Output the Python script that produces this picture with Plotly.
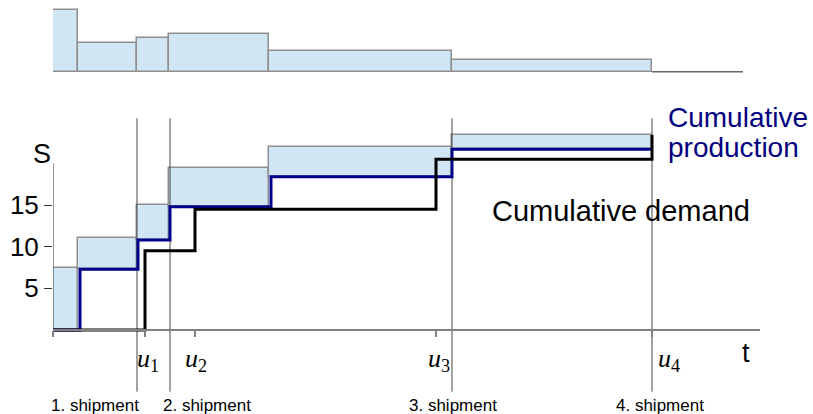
import plotly.graph_objects as go

# ---------------- data ----------------
# production intervals (edges, time units) and histogram heights
interval_edges = [0, 2.5, 8.4, 11.6, 21.6, 39.9, 59.9]
hist_heights = [7.4, 3.5, 4.0, 4.5, 2.5, 1.4]
hist_tail_end = 69.0

# shaded production blocks on the cumulative chart
block_low = [0, 7.3, 10.8, 14.8, 18.4, 21.7]
block_high = [7.5, 11.0, 15.0, 19.45, 22.0, 23.4]

# cumulative production (step, hv)
prod_t = [0, 2.7, 8.5, 11.7, 21.8, 39.9, 59.9]
prod_level = [0, 7.3, 10.8, 14.8, 18.4, 21.7, 21.7]

# cumulative demand (step, hv)
demand_t = [0, 9.2, 14.2, 38.3, 59.9]
demand_level = [0, 9.5, 14.5, 20.5, 23.4]

# shipments
shipment_t = [8.4, 11.7, 39.9, 59.9]
shipment_labels = ["1. shipment", "2. shipment", "3. shipment", "4. shipment"]
u_labels = ["1", "2", "3", "4"]

y_ticks = [5, 10, 15]
y_axis_top = 20
x_axis_end = 70.7

# ---------------- styling ----------------
FILL = "#d0e6f4"
EDGE = "#8f8f8f"
NAVY = "#00008b"
SANS = "Liberation Sans, Arial, sans-serif"
SERIF = "Liberation Serif, Times New Roman, serif"

W, H = 813, 414
y_min, y_max = -10.08, 39.6      # main axis
y2_min, y2_max = -41.08, 8.604   # histogram axis

fig = go.Figure()

widths = [interval_edges[i + 1] - interval_edges[i] for i in range(len(hist_heights))]
centers = [(interval_edges[i] + interval_edges[i + 1]) / 2 for i in range(len(hist_heights))]

# histogram on top
fig.add_trace(go.Bar(
    x=centers, y=hist_heights, width=widths, base=0, yaxis="y2",
    marker=dict(color=FILL, line=dict(color=EDGE, width=1.5)),
    hoverinfo="skip", showlegend=False))
fig.add_trace(go.Scatter(
    x=[interval_edges[-1], hist_tail_end], y=[0, 0], yaxis="y2", mode="lines",
    line=dict(color="#666666", width=1.5), hoverinfo="skip", showlegend=False))

# shaded blocks
fig.add_trace(go.Bar(
    x=centers, y=[h - l for h, l in zip(block_high, block_low)], base=block_low,
    width=widths, marker=dict(color=FILL, line=dict(color=EDGE, width=1.5)),
    hoverinfo="skip", showlegend=False))

# shipment vertical lines
sx, sy = [], []
for t in shipment_t:
    sx += [t, t, None]
    sy += [25.4, -7.4, None]
fig.add_trace(go.Scatter(x=sx, y=sy, mode="lines", line=dict(color="#444444", width=1),
                         hoverinfo="skip", showlegend=False))

# y axis line
fig.add_trace(go.Scatter(x=[0, 0], y=[0, y_axis_top], mode="lines",
                         line=dict(color="#333333", width=1), hoverinfo="skip", showlegend=False))

# cumulative production
fig.add_trace(go.Scatter(x=prod_t, y=prod_level, mode="lines", line_shape="hv",
                         line=dict(color=NAVY, width=3), hoverinfo="skip", showlegend=False))
# cumulative demand
fig.add_trace(go.Scatter(x=demand_t, y=demand_level, mode="lines", line_shape="hv",
                         line=dict(color="black", width=3), hoverinfo="skip", showlegend=False))

annotations = []
# u labels
u_shift = [3, 1, 3, 17]
for t, lab, dx in zip(demand_t[1:], u_labels, u_shift):
    annotations.append(dict(x=t, y=-3.6, xref="x", yref="y", text=f"<i>u</i><sub>{lab}</sub>",
                            showarrow=False, xshift=dx, font=dict(family=SERIF, size=26, color="black")))
# shipment labels
ship_shift = [-42, 37, 1, 8]
for t, lab, dx in zip(shipment_t, shipment_labels, ship_shift):
    annotations.append(dict(x=t, y=-9.0, xref="x", yref="y", text=lab, showarrow=False, xshift=dx,
                            font=dict(family=SANS, size=17, color="black")))
# axis names
annotations.append(dict(x=0, y=21.1, xref="x", yref="y", text="S", showarrow=False, xshift=-11,
                        font=dict(family=SANS, size=27, color="black")))
annotations.append(dict(x=69.3, y=-2.8, xref="x", yref="y", text="t", showarrow=False,
                        font=dict(family=SANS, size=27, color="black")))
# series labels
annotations.append(dict(x=43.7, y=14.3, xref="x", yref="y", text="Cumulative demand", showarrow=False,
                        xanchor="left", font=dict(family=SANS, size=29, color="black")))
for yy, line in zip([25.5, 21.9], ["Cumulative", "production"]):
    annotations.append(dict(x=61.3, y=yy, xref="x", yref="y", text=line, showarrow=False,
                            xanchor="left", font=dict(family=SANS, size=28, color="#000080")))

fig.update_layout(
    width=W, height=H,
    margin=dict(l=53, r=53, t=0, b=0),
    paper_bgcolor="white", plot_bgcolor="white",
    barmode="overlay", bargap=0,
    showlegend=False,
    xaxis=dict(range=[0, x_axis_end], anchor="free", position=(0 - y_min) / (y_max - y_min),
               showline=True, linecolor="#808080", linewidth=1.5, showgrid=False, zeroline=False,
               ticks="outside", tickvals=demand_t, ticklen=6, tickcolor="#808080", tickwidth=1.5,
               showticklabels=False, automargin=False, fixedrange=True),
    yaxis=dict(range=[y_min, y_max], showline=False, showgrid=False, zeroline=False,
               ticks="outside", tickvals=y_ticks, ticklen=8, tickcolor="#333333",
               tickfont=dict(family=SANS, size=26, color="black"), automargin=False, fixedrange=True),
    yaxis2=dict(range=[y2_min, y2_max], overlaying="y", visible=False, fixedrange=True),
    annotations=annotations,
)

fig.write_html("out.html", config={"displayModeBar": False},
               post_script="document.body.style.margin='0';document.body.style.overflow='hidden';")
